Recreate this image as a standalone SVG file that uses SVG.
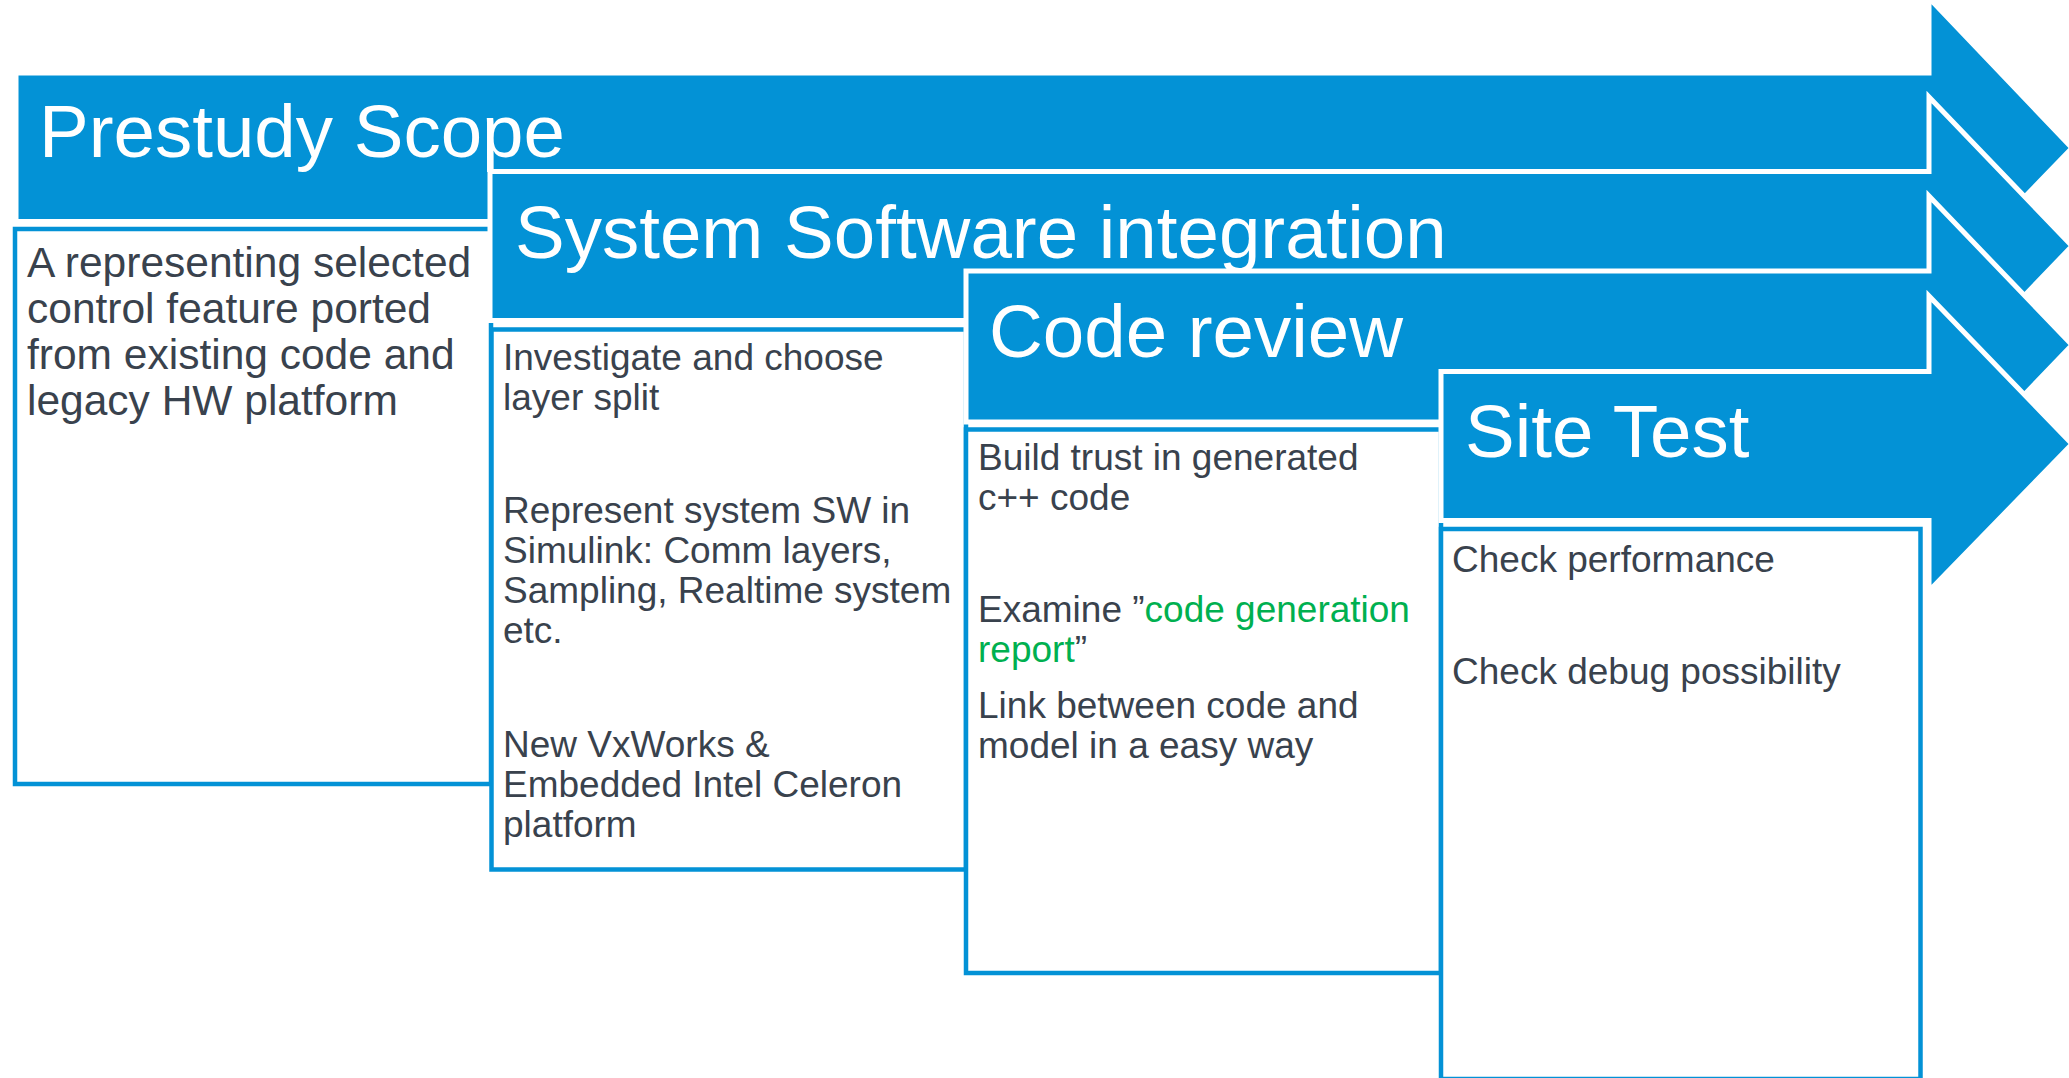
<svg xmlns="http://www.w3.org/2000/svg" width="2069" height="1078" viewBox="0 0 2069 1078">
<style>
.arrow{fill:#0392d6;stroke:#ffffff;stroke-width:5;stroke-linejoin:miter}
.box{fill:#ffffff;stroke:#0392d6;stroke-width:4.5}
.title{font-family:"Liberation Sans",Arial,sans-serif;font-size:74.5px;fill:#ffffff}
.body{font-family:"Liberation Sans",Arial,sans-serif;font-size:37px;fill:#39424d}
.big{font-size:42.5px}
.green{fill:#00b050}
</style>
<rect width="2069" height="1078" fill="#ffffff"/>
<g id="stage-prestudy">
<polygon class="arrow" points="16,73 1929,73 1929,-2 2072,148 1929,296 1929,221.5 16,221.5"/>
<rect class="box" x="15" y="229" width="476" height="555"/>
<text class="title" x="39" y="157">Prestudy Scope</text>
<text class="body big" x="27"><tspan x="27" y="277">A representing selected</tspan><tspan x="27" y="323">control feature ported</tspan><tspan x="27" y="369">from existing code and</tspan><tspan x="27" y="415">legacy HW platform</tspan></text>
</g>
<g id="stage-system">
<polygon class="arrow" points="490,171.5 1929,171.5 1929,97 2072,246 1929,395 1929,320.5 490,320.5"/>
<rect class="box" x="491.5" y="329.5" width="474.5" height="540"/>
<text class="title" x="515" y="258">System Software integration</text>
<text class="body"><tspan x="503" y="370">Investigate and choose</tspan><tspan x="503" y="410">layer split</tspan></text>
<text class="body"><tspan x="503" y="523">Represent system SW in</tspan><tspan x="503" y="563">Simulink: Comm layers,</tspan><tspan x="503" y="603">Sampling, Realtime system</tspan><tspan x="503" y="643">etc.</tspan></text>
<text class="body"><tspan x="503" y="757">New VxWorks &amp;</tspan><tspan x="503" y="797">Embedded Intel Celeron</tspan><tspan x="503" y="837">platform</tspan></text>
</g>
<g id="stage-codereview">
<polygon class="arrow" points="966,271 1929,271 1929,196 2072,345 1929,494 1929,422 966,422"/>
<rect class="box" x="966" y="429.5" width="475" height="543.5"/>
<text class="title" x="989" y="357">Code review</text>
<text class="body"><tspan x="978" y="470">Build trust in generated</tspan><tspan x="978" y="510">c++ code</tspan></text>
<text class="body"><tspan x="978" y="622">Examine ”<tspan class="green">code generation</tspan></tspan><tspan x="978" y="662"><tspan class="green">report</tspan>”</tspan></text>
<text class="body"><tspan x="978" y="718">Link between code and</tspan><tspan x="978" y="758">model in a easy way</tspan></text>
</g>
<g id="stage-sitetest">
<polygon class="arrow" points="1441,371.5 1929,371.5 1929,296 2072,444 1929,591 1929,520.5 1441,520.5"/>
<rect class="box" x="1441" y="529" width="479.5" height="550"/>
<text class="title" x="1465" y="457">Site Test</text>
<text class="body"><tspan x="1452" y="572">Check performance</tspan></text>
<text class="body"><tspan x="1452" y="684">Check debug possibility</tspan></text>
</g>
<g id="connectors"></g>
</svg>
